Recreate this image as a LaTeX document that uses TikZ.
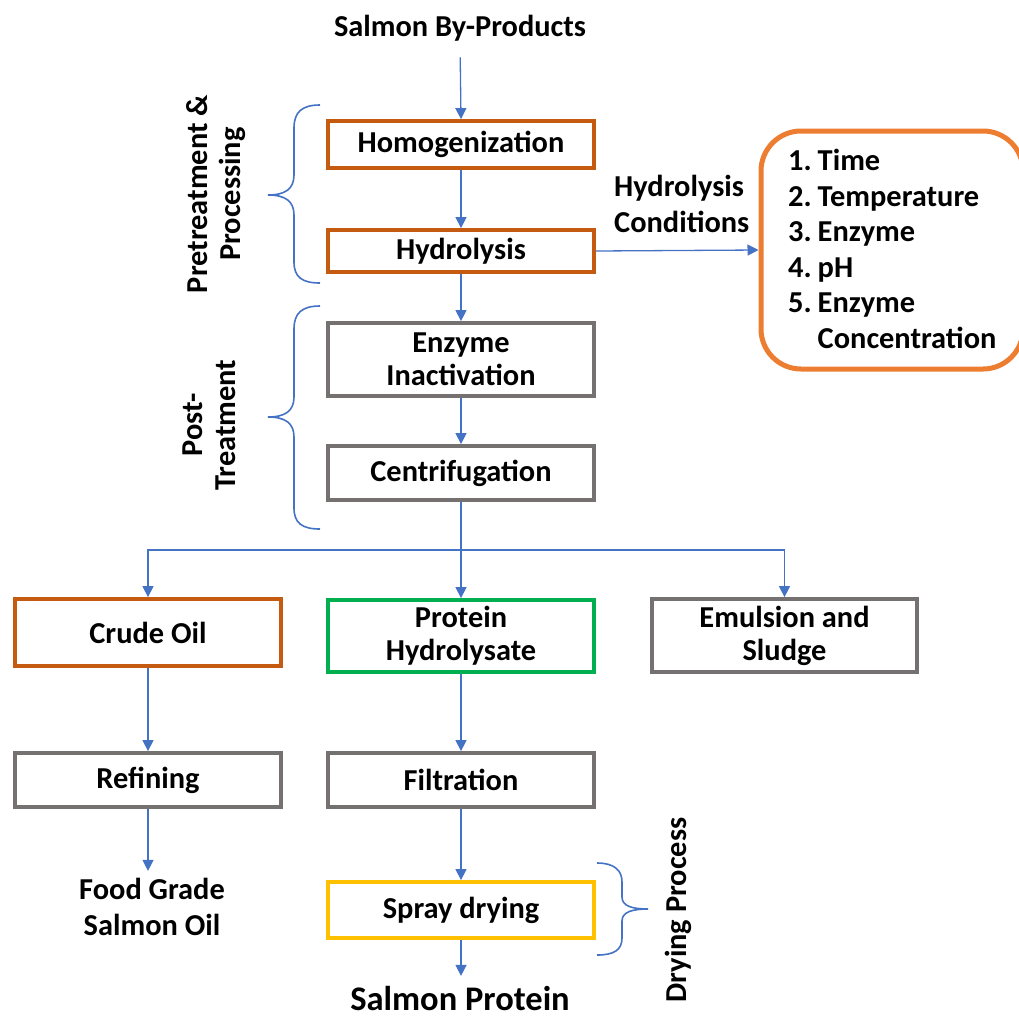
\documentclass[tikz,border=0pt]{standalone}
\usepackage{fontspec}
\setmainfont{Carlito}
\usetikzlibrary{arrows.meta}
\definecolor{boxorange}{HTML}{C55A11}
\definecolor{boxgray}{HTML}{767171}
\definecolor{boxgreen}{HTML}{00B050}
\definecolor{boxyellow}{HTML}{FFC000}
\definecolor{condorange}{HTML}{ED7D31}
\definecolor{linkblue}{HTML}{4472C4}
\begin{document}
\begin{tikzpicture}[x=1pt,y=-1pt,
  lbl/.style={font=\bfseries\fontsize{30.4}{33}\selectfont, inner sep=0pt, align=center},
  box/.style={lbl, draw, line width=3.8pt, fill=white, minimum width=266pt},
  obox/.style={box, draw=boxorange},
  gbox/.style={box, draw=boxgray},
  grbox/.style={box, draw=boxgreen},
  ybox/.style={box, draw=boxyellow},
  link/.style={draw=linkblue, line width=1.3pt},
  arr/.style={link, -{Triangle[width=11pt,length=11pt]}},
  brace/.style={draw=linkblue, line width=1.6pt}
]
\useasboundingbox (0,0) rectangle (1019,1018);
\clip (0,0) rectangle (1019,1018);

% top label
\node[lbl] (sbp) at (460,28) {Salmon By-Products};

% main column
\node[obox, minimum height=47pt] (homog) at (461,144.5) {Homogenization};
\node[obox, minimum height=42pt] (hydro) at (461,251) {Hydrolysis};
\node[gbox, minimum height=73pt] (inact) at (461,359.5) {Enzyme\\Inactivation};
\node[gbox, minimum height=54pt] (centr) at (461,473) {Centrifugation};

\node[obox, minimum height=67pt] (crude) at (148,632.5) {Crude Oil};
\node[grbox, minimum height=72pt] (prot) at (461,636) {Protein\\Hydrolysate};
\node[gbox, minimum height=73pt, minimum width=265pt] (emul) at (784.5,635.5) {Emulsion and\\Sludge};

\node[gbox, minimum height=54pt] (refin) at (148,780) {Refining};
\node[gbox, minimum height=54pt] (filt) at (461,780) {Filtration};
\node[ybox, minimum height=56pt] (spray) at (461,910) {Spray drying};

\node[lbl] (fgso) at (152,907) {Food Grade\\[3pt]Salmon Oil};
\node[lbl, font=\bfseries\fontsize{34.5}{38}\selectfont] (sprot) at (460,999) {Salmon Protein};

% conditions box
\node[draw=condorange, line width=5pt, rounded corners=40pt, minimum width=262pt, minimum height=238pt, inner sep=0pt] (cond) at (892,250) {};
\node[lbl, anchor=west, align=left] (condlist) at (788,253) {%
  \begin{tabular}{@{}l@{\hspace{6pt}}l@{}}
  1. & Time\\[2.5pt]
  2. & Temperature\\[2.5pt]
  3. & Enzyme\\[2.5pt]
  4. & pH\\[2.5pt]
  5. & Enzyme\\[2.5pt]
     & Concentration
  \end{tabular}};
\node[lbl, anchor=west, align=left] (hcond) at (614,204) {Hydrolysis\\[3pt]Conditions};

% side labels
\node[lbl, rotate=90] (pretr) at (216,194) {Pretreatment \&\\Processing};
\node[lbl, rotate=90] (post) at (209,425) {Post-\\Treatment};
\node[lbl, rotate=90] (dry) at (678,910) {Drying Process};

% connectors
\draw[arr, shorten <=16pt] (sbp.south) -- (homog.north);
\draw[arr] (homog) -- (hydro);
\draw[arr] (hydro) -- (inact);
\draw[arr] (inact) -- (centr);
\draw[arr] (hydro.east) -- (cond.west);
\draw[link] (centr.south) -- (461,550) coordinate (split);
\draw[arr] (split) -| (crude.north);
\draw[arr] (split) -- (prot.north);
\draw[arr] (split) -| (emul.north);
\draw[arr] (crude) -- (refin);
\draw[arr] (refin.south) -- ++(0,62) coordinate (fgtop);
\draw[arr] (prot) -- (filt);
\draw[arr] (filt) -- (spray);
\draw[arr] (spray.south) -- ++(0,36) coordinate (sptop);

% braces
\draw[brace] (320,105) .. controls (302,105) and (294,112) .. (294,128) -- (294,175)
  .. controls (294,189) and (285,195) .. (268,195)
  .. controls (285,195) and (294,201) .. (294,215) -- (294,262)
  .. controls (294,277) and (302,283) .. (320,283);
\draw[brace] (320,306) .. controls (302,306) and (294,313) .. (294,329) -- (294,397)
  .. controls (294,411) and (285,417) .. (268,417)
  .. controls (285,417) and (294,423) .. (294,437) -- (294,508)
  .. controls (294,523) and (302,529) .. (320,529);
\draw[brace] (597,863) .. controls (614,863) and (622,870) .. (622,882) -- (622,897)
  .. controls (622,906) and (632,909) .. (648,909)
  .. controls (632,909) and (622,912) .. (622,921) -- (622,938)
  .. controls (622,950) and (614,955) .. (597,955);
\end{tikzpicture}
\end{document}
